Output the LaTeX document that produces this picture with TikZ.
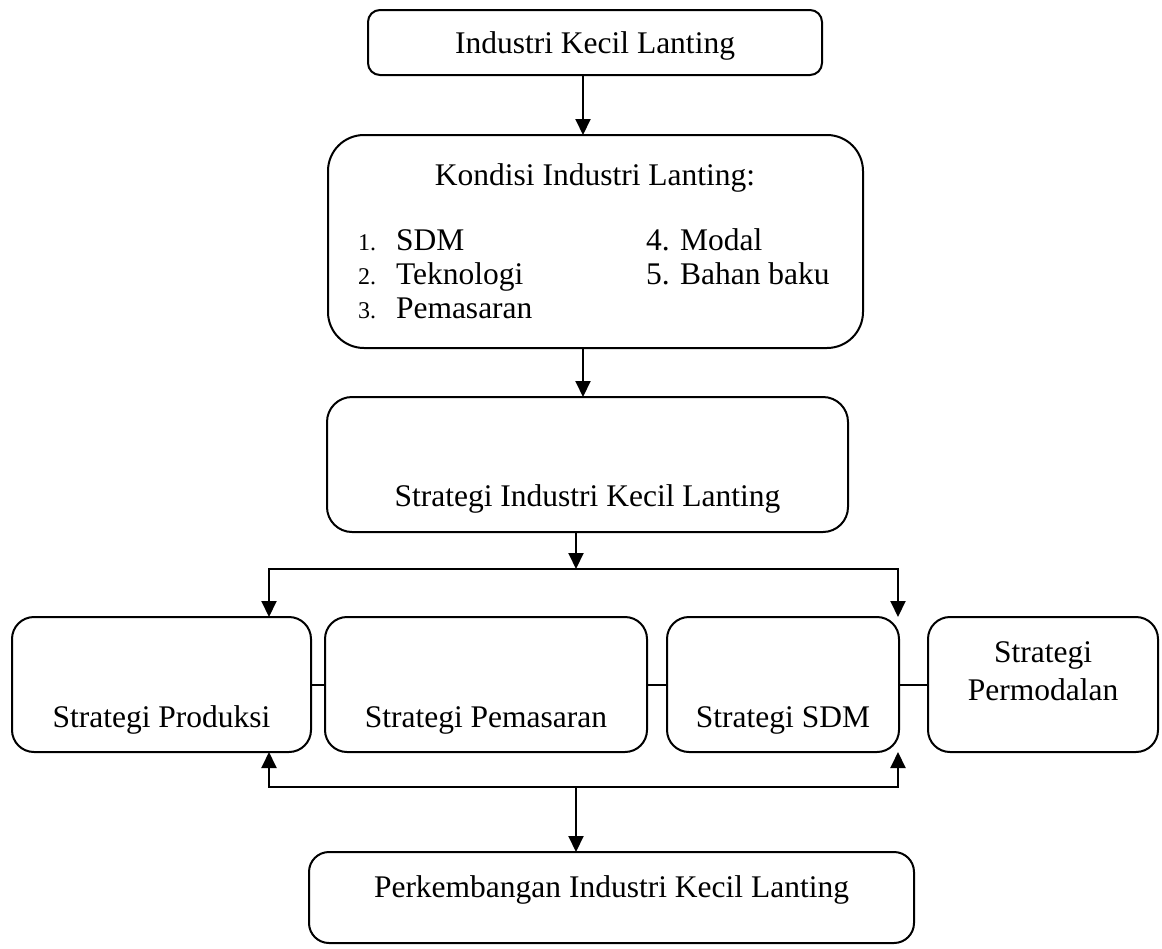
\documentclass[tikz,border=0pt]{standalone}
\usepackage{fontspec}
\setmainfont{Liberation Serif}
\usetikzlibrary{arrows.meta, calc, positioning}

\begin{document}
\begin{tikzpicture}[x=1pt, y=-1pt, line width=2pt]
        \useasboundingbox (0, 0) rectangle (1162, 948);

        \tikzstyle{b} = [draw, inner sep=0pt, outer sep=0pt, rounded corners=22pt];
        \tikzstyle{t} = [anchor=base, inner sep=0pt, font=\fontsize{31.5}{38}\selectfont];
        \tikzstyle{a} = [-{Triangle[length=16pt, width=15pt]}];
        \tikzstyle{aa} = [{Triangle[length=16pt, width=15pt]}-{Triangle[length=16pt, width=15pt]}];

        % boxes
        \node [b, rounded corners=12pt, minimum width=454pt, minimum height=65pt] (IKL) at (595, 42.5) {};
        \node [b, rounded corners=36pt, minimum width=535pt, minimum height=213pt] (KIL) at (595.5, 241.5) {};
        \node [b, rounded corners=25pt, minimum width=521pt, minimum height=135pt] (SIKL) at (587.5, 464.5) {};

        \node [b, minimum width=299pt, minimum height=135pt] (SP)   at (161.5, 684.5) {};
        \node [b, minimum width=322pt, minimum height=135pt] (SPm)  at (486, 684.5) {};
        \node [b, minimum width=232pt, minimum height=135pt] (SSDM) at (783, 684.5) {};
        \node [b, minimum width=230pt, minimum height=135pt] (SPmd) at (1043, 684.5) {};

        \node [b, rounded corners=20pt, minimum width=605pt, minimum height=91pt] (PIKL) at (611.5, 897.5) {};

        % texts
        \node [t] (IKLt)  at (595, 53) {Industri Kecil Lanting};
        \node [t] (KILt)  at (595, 185) {Kondisi Industri Lanting:};
        \foreach \i/\s/\y in {1/SDM/250, 2/Teknologi/284, 3/Pemasaran/318}{
            \node [t, anchor=base west, font=\fontsize{24}{28}\selectfont] (n\i) at (357, \y) {\i.};
            \node [t, anchor=base west] (k\i) at (395, \y) {\s};
        }
        \foreach \i/\s/\y in {4/Modal/250, 5/Bahan baku/284}{
            \node [t, anchor=base west] (k\i) at (645, \y) {\i. \s};
        }
        \node [t] (SIKLt) at (587.5, 506) {Strategi Industri Kecil Lanting};
        \node [t] (SPt)   at (161.5, 727) {Strategi Produksi};
        \node [t] (SPmt)  at (486, 727) {Strategi Pemasaran};
        \node [t] (SSDMt) at (783, 727) {Strategi SDM};
        \node [t] (SPmdt) at (1043, 662) {Strategi};
        \node [t] (SPmdu) at (1043, 700) {Permodalan};
        \node [t] (PIKLt) at (611.5, 897) {Perkembangan Industri Kecil Lanting};

        % connectors
        \coordinate (A1)  at (583, 0);
        \coordinate (JT)  at (576, 569);
        \coordinate (JTl) at (269, 569);
        \coordinate (JTr) at (898, 569);
        \coordinate (JB)  at (576, 787);
        \coordinate (JBl) at (269, 787);
        \coordinate (JBr) at (898, 787);

        \draw [a] (IKL.south -| A1) -- (KIL.north -| A1);
        \draw [a] (KIL.south -| A1) -- (SIKL.north -| A1);
        \draw [a] (SIKL.south -| JT) -- (JT);
        \draw [aa] (SP.north -| JTl) |- (JTr) -- (SSDM.north -| JTr);

        \draw (SP.east) -- (SPm.west);
        \draw (SPm.east) -- (SSDM.west);
        \draw (SSDM.east) -- (SPmd.west);

        \draw [aa] (SP.south -| JBl) |- (JBr) -- (SSDM.south -| JBr);
        \draw [a] (JB) -- (PIKL.north -| JB);
    \end{tikzpicture}
\end{document}
